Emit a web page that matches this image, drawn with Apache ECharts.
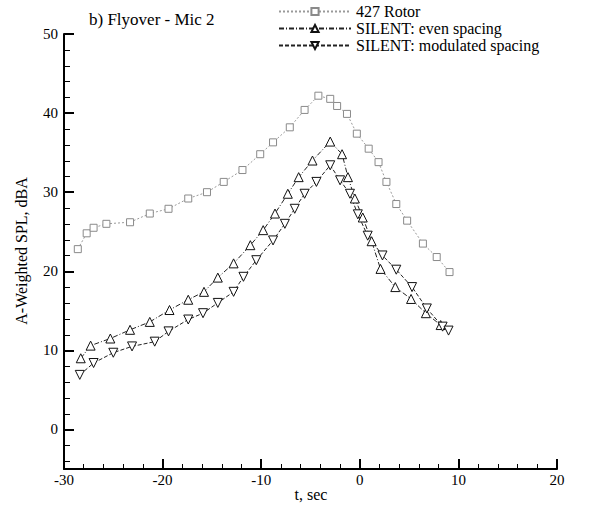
<!DOCTYPE html>
<html>
<head>
<meta charset="utf-8">
<script src="https://cdn.jsdelivr.net/npm/echarts@6/dist/echarts.min.js"></script>
<style>
html,body{margin:0;padding:0;background:#fff;}
#chart{width:601px;height:513px;}
#chart svg{display:block;}
</style>
</head>
<body>
<div id="chart"></div>
<script>
// ---- data ----
const seriesNames = ['427 Rotor', 'SILENT: even spacing', 'SILENT: modulated spacing'];

const rotorT   = [-28.6, -27.7, -27.0, -25.7, -23.3, -21.3, -19.4, -17.4, -15.5, -13.8, -11.9, -10.1, -8.8, -7.1, -5.6, -4.2, -3.0, -2.3, -1.3, -0.3, 0.9, 1.9, 2.7, 3.7, 4.8, 6.4, 7.8, 9.1];
const rotorSPL = [22.8, 24.8, 25.5, 26.0, 26.2, 27.3, 27.9, 29.2, 30.0, 31.3, 32.8, 34.8, 36.3, 38.2, 40.4, 42.2, 41.8, 40.9, 39.9, 37.4, 35.5, 33.8, 31.3, 28.5, 26.4, 23.5, 21.8, 19.9];

const evenT   = [-28.3, -27.3, -25.3, -23.3, -21.3, -19.3, -17.4, -15.8, -14.4, -12.8, -11.1, -9.8, -8.6, -7.3, -6.2, -4.8, -3.0, -1.8, -1.2, -0.5, 0.3, 1.2, 2.1, 3.6, 5.2, 6.7, 8.2];
const evenSPL = [9.0, 10.6, 11.5, 12.6, 13.6, 15.1, 16.4, 17.4, 19.2, 21.0, 23.3, 25.2, 27.3, 29.8, 31.9, 34.0, 36.4, 34.8, 31.9, 29.2, 26.8, 23.8, 20.3, 18.0, 16.5, 14.7, 13.2];

const modT   = [-28.4, -27.0, -25.0, -23.1, -20.8, -19.4, -17.4, -15.9, -14.4, -12.8, -11.8, -10.5, -8.8, -7.6, -6.6, -5.6, -4.4, -3.0, -2.0, -1.0, -0.2, 0.8, 2.3, 3.7, 5.3, 6.8, 8.4, 9.0];
const modSPL = [6.9, 8.4, 9.7, 10.5, 11.1, 12.4, 13.9, 14.7, 16.0, 17.4, 19.3, 21.4, 23.9, 26.0, 27.9, 29.8, 31.3, 33.4, 31.5, 29.8, 27.2, 24.5, 22.0, 20.2, 18.0, 15.3, 13.0, 12.5];

const X_MIN = -30, X_MAX = 20, X_STEP = 10;
const Y_MIN = -5, Y_MAX = 50;
const yMinorTicks = [-4, -2, 2, 4, 6, 8, 12, 14, 16, 18, 22, 24, 26, 28, 32, 34, 36, 38, 42, 44, 46, 48];

const titleText = 'b) Flyover - Mic 2';
const xName = 't, sec';
const yName = 'A-Weighted SPL, dBA';

// ---- chart (server-side style SVG rendering, inserted synchronously) ----
const zip = (a, b) => a.map((v, i) => [v, b[i]]);
const FONT = '"Liberation Sans", Arial, Helvetica, sans-serif';

const chart = echarts.init(null, null, {renderer: 'svg', ssr: true, width: 601, height: 513});

const option = {
  backgroundColor: '#ffffff',
  animation: false,
  title: {
    text: titleText, left: 84, top: 6,
    textStyle: {fontFamily: FONT, fontSize: 17, fontWeight: 'bold', color: '#000'}
  },
  legend: {
    orient: 'vertical', left: 273, top: -2,
    itemWidth: 72, itemHeight: 9, itemGap: 0,
    textStyle: {fontFamily: FONT, fontSize: 16, fontWeight: 'bold', color: '#000', lineHeight: 17},
    data: seriesNames
  },
  graphic: [
    {type: 'text', x: 21, y: 251, rotation: Math.PI / 2,
     style: {text: yName, align: 'center', verticalAlign: 'middle', font: 'bold 18px ' + FONT, fill: '#000'}},
    {type: 'text', x: 311, y: 494,
     style: {text: xName, align: 'center', verticalAlign: 'middle', font: 'bold 17px ' + FONT, fill: '#000'}}
  ],
  grid: {left: 64, right: 44, top: 34, bottom: 44},
  xAxis: {
    type: 'value', min: X_MIN, max: X_MAX, interval: X_STEP,
    axisLine: {show: true, onZero: false, lineStyle: {color: '#000', width: 2}},
    axisTick: {show: true, inside: true, length: 10, lineStyle: {color: '#000', width: 2}},
    minorTick: {show: true, splitNumber: 5, length: 5, lineStyle: {color: '#000', width: 1}},
    axisLabel: {fontFamily: FONT, fontSize: 15, color: '#000', margin: 3},
    splitLine: {show: false}
  },
  yAxis: {
    type: 'value', min: Y_MIN, max: Y_MAX,
    axisLine: {show: true, onZero: false, lineStyle: {color: '#000', width: 2}},
    axisTick: {show: true, inside: true, length: 10, lineStyle: {color: '#000', width: 2}},
    axisLabel: {fontFamily: FONT, fontSize: 15, color: '#000', margin: 6, showMinLabel: false},
    splitLine: {show: false}
  },
  series: [
    {
      name: seriesNames[0], type: 'line', data: zip(rotorT, rotorSPL),
      symbol: 'rect', symbolSize: 7,
      lineStyle: {color: '#9a9a9a', width: 1, type: [2, 2]},
      itemStyle: {color: '#ffffff', borderColor: '#8a8a8a', borderWidth: 1},
      z: 2
    },
    {
      name: seriesNames[1], type: 'line', data: zip(evenT, evenSPL),
      symbol: 'triangle', symbolSize: 9,
      lineStyle: {color: '#222', width: 1, type: [5, 2, 1, 2]},
      itemStyle: {color: '#ffffff', borderColor: '#111', borderWidth: 1},
      z: 3
    },
    {
      name: seriesNames[2], type: 'line', data: zip(modT, modSPL),
      symbol: 'path://M0,0 L10,0 L5,9 Z', symbolSize: 9,
      lineStyle: {color: '#222', width: 1, type: [4, 2]},
      itemStyle: {color: '#ffffff', borderColor: '#111', borderWidth: 1},
      z: 3
    },
    {
      // y-axis minor ticks (every 2 dBA), placed through the cartesian coordinate system
      type: 'custom', coordinateSystem: 'cartesian2d', silent: true, clip: false, z: 10,
      data: yMinorTicks.map(v => [X_MIN, v]),
      renderItem: function (params, api) {
        const p = api.coord([api.value(0), api.value(1)]);
        const yy = Math.round(p[1]) + 0.5;
        return {type: 'line', shape: {x1: p[0], y1: yy, x2: p[0] + 6, y2: yy},
                style: {stroke: '#000', lineWidth: 1}};
      }
    }
  ]
};
chart.setOption(option);
document.getElementById('chart').innerHTML = chart.renderToSVGString();
</script>
</body>
</html>
